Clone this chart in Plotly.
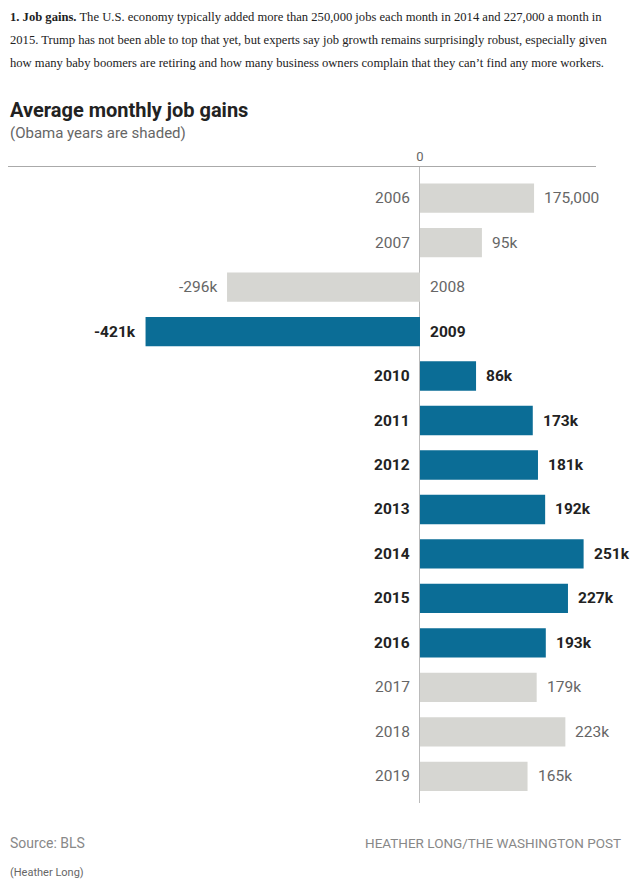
import plotly.graph_objects as go

years = ["2006", "2007", "2008", "2009", "2010", "2011", "2012", "2013",
         "2014", "2015", "2016", "2017", "2018", "2019"]
gains_k = [175, 95, -296, -421, 86, 173, 181, 192, 251, 227, 193, 179, 223, 165]
value_labels = ["175,000", "95k", "-296k", "-421k", "86k", "173k", "181k", "192k",
                "251k", "227k", "193k", "179k", "223k", "165k"]
obama = [False, False, False, True, True, True, True, True, True, True, True,
         False, False, False]

BLUE = "#0b6d96"
GRAY_BAR = "#d6d6d2"
DARK = "#222222"
GRAY_TXT = "#666666"
SANS = "Roboto, Arial, sans-serif"
SERIF = "Liberation Serif, DejaVu Serif, serif"

# page has an 8px body margin, so figure coords = page coords - 8
OFF = 8
W, H = 640 - OFF, 884 - OFF
ML, MR, MT, MB = 8 - OFF, 44, 167 - OFF, 81
plot_h = H - MT - MB

colors = [BLUE if o else GRAY_BAR for o in obama]

fig = go.Figure()
fig.add_trace(go.Bar(
    x=gains_k, y=list(range(len(years))), orientation="h",
    marker=dict(color=colors, line=dict(width=0)),
    hoverinfo="skip", width=0.66,
))

for i, (yr, v, lab, o) in enumerate(zip(years, gains_k, value_labels, obama)):
    col = DARK if o else GRAY_TXT
    # year label beside the zero line
    fig.add_annotation(
        x=0, y=i, xref="x", yref="y",
        text=f"<b>{yr}</b>" if o else yr, showarrow=False,
        xanchor="right" if v >= 0 else "left",
        xshift=-8 if v >= 0 else 8,
        font=dict(family=SANS, size=15.5, color=col),
    )
    # value label at the bar end
    fig.add_annotation(
        x=v, y=i, xref="x", yref="y",
        text=f"<b>{lab}</b>" if o else lab, showarrow=False,
        xanchor="left" if v >= 0 else "right",
        xshift=8 if v >= 0 else -8,
        font=dict(family=SANS, size=15.5, color=col),
    )

def py(ypix):
    return 1 + (MT - (ypix - OFF)) / plot_h

intro = [
    "<b>1. Job gains.</b> The U.S. economy typically added more than 250,000 jobs each month in 2014 and 227,000 a month in",
    "2015. Trump has not been able to top that yet, but experts say job growth remains surprisingly robust, especially given",
    "how many baby boomers are retiring and how many business owners complain that they can’t find any more workers.",
]
for k, line in enumerate(intro):
    fig.add_annotation(x=0, y=py(17 + 23 * k), xref="paper", yref="paper",
                       xanchor="left", yanchor="middle", showarrow=False,
                       text=line,
                       font=dict(family=SERIF, size=12.6, color="#222222"))

fig.add_annotation(x=0, y=py(110), xref="paper", yref="paper", xanchor="left",
                   yanchor="middle", showarrow=False, text="<b>Average monthly job gains</b>",
                   font=dict(family=SANS, size=20, color="#222222"))
fig.add_annotation(x=0, y=py(133), xref="paper", yref="paper", xanchor="left",
                   yanchor="middle", showarrow=False, text="(Obama years are shaded)",
                   font=dict(family=SANS, size=15, color=GRAY_TXT))
fig.add_annotation(x=0, y=py(843), xref="paper", yref="paper", xanchor="left",
                   yanchor="middle", showarrow=False, text="Source: BLS",
                   font=dict(family=SANS, size=14, color="#888888"))
fig.add_annotation(x=1, y=py(843), xref="paper", yref="paper", xanchor="right",
                   yanchor="middle", showarrow=False, xshift=27,
                   text="HEATHER LONG/THE WASHINGTON POST",
                   font=dict(family=SANS, size=13.5, color="#888888"))
fig.add_annotation(x=0, y=py(872), xref="paper", yref="paper", xanchor="left",
                   yanchor="middle", showarrow=False, text="(Heather Long)",
                   font=dict(family=SANS, size=11, color="#666666"))

fig.update_layout(
    width=W, height=H, margin=dict(l=ML, r=MR, t=MT, b=MB),
    paper_bgcolor="white", plot_bgcolor="white", showlegend=False,
    xaxis=dict(range=[-632, 270], side="top", tickvals=[0], ticktext=["0"],
               showgrid=False, zeroline=True, zerolinecolor="#bbbbbb", zerolinewidth=1,
               showline=True, linecolor="#aaaaaa", linewidth=1, ticks="",
               tickfont=dict(family=SANS, size=13, color=GRAY_TXT), fixedrange=True),
    yaxis=dict(range=[13.6, -0.7], showticklabels=False, showgrid=False,
               zeroline=False, showline=False, fixedrange=True),
)

fig.write_html("out.html")
